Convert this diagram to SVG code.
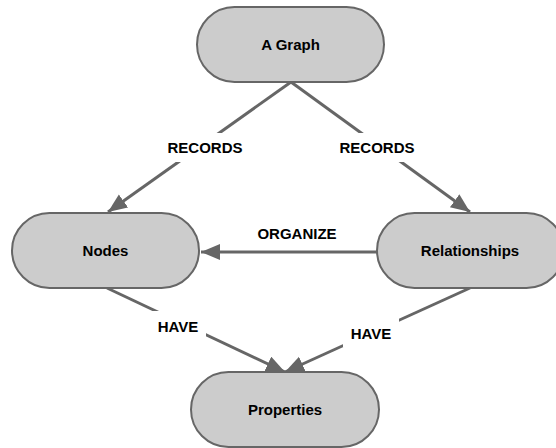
<svg xmlns="http://www.w3.org/2000/svg" width="556" height="448" viewBox="0 0 556 448">
<style>
.node{fill:#cccccc;stroke:#666666;stroke-width:2}
.edge{stroke:#666666;stroke-width:3;fill:none}
.t{font-family:"Liberation Sans",Arial,sans-serif;font-weight:bold;font-size:15px;fill:#000;text-anchor:middle}
.lb{fill:#ffffff}
</style>
<defs>
<marker id="arr" markerUnits="userSpaceOnUse" markerWidth="22" markerHeight="18" refX="19" refY="8" orient="auto">
<path d="M0,0 L19,8 L0,16 z" fill="#666666"/>
</marker>
</defs>
<rect width="556" height="448" fill="#ffffff"/>
<g id="connectors">
<line class="edge" x1="291" y1="82" x2="108" y2="212" marker-end="url(#arr)"/>
<line class="edge" x1="291" y1="82" x2="470" y2="212" marker-end="url(#arr)"/>
<line class="edge" x1="377" y1="252" x2="201" y2="252" marker-end="url(#arr)"/>
<line class="edge" x1="107" y1="288" x2="285" y2="372" marker-end="url(#arr)"/>
<line class="edge" x1="470" y1="288" x2="285" y2="372" marker-end="url(#arr)"/>
<rect class="lb" x="163" y="133" width="84" height="29"/>
<text class="t" x="205" y="153">RECORDS</text>
<rect class="lb" x="335" y="133" width="84" height="29"/>
<text class="t" x="377" y="153">RECORDS</text>
<text class="t" x="297" y="239">ORGANIZE</text>
<rect class="lb" x="150" y="311" width="56" height="29"/>
<text class="t" x="178" y="332">HAVE</text>
<rect class="lb" x="343" y="318" width="56" height="29"/>
<text class="t" x="371" y="339">HAVE</text>
</g>
<g id="node-graph">
<rect class="node" x="197" y="7" width="187" height="75" rx="37.5"/>
<text class="t" x="290.5" y="50">A Graph</text>
</g>
<g id="node-nodes">
<rect class="node" x="12" y="213" width="187" height="75" rx="37.5"/>
<text class="t" x="105.5" y="256">Nodes</text>
</g>
<g id="node-relationships">
<rect class="node" x="377" y="213" width="187" height="75" rx="37.5"/>
<text class="t" x="470" y="256">Relationships</text>
</g>
<g id="node-properties">
<rect class="node" x="191" y="372" width="188" height="75" rx="37.5"/>
<text class="t" x="285" y="415">Properties</text>
</g>
</svg>
